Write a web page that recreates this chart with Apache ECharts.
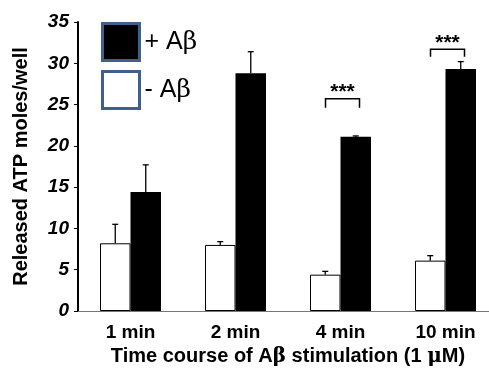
<!DOCTYPE html>
<html>
<head>
<meta charset="utf-8">
<script src="https://cdn.jsdelivr.net/npm/echarts@6/dist/echarts.min.js"></script>
<style>
  html, body { margin: 0; padding: 0; background: #fff; overflow: hidden; }
  /* the plot in the figure runs a little past the right edge of the picture */
  #chart { width: 498px; height: 372px; }
</style>
</head>
<body>
<div id="chart"></div>
<script>
// categories and values
var categories = ['1 min', '2 min', '4 min', '10 min'];
var minusMean = [8.2, 8.0, 4.4, 6.1];   // - Abeta (white)
var minusSem = [2.3, 0.4, 0.4, 0.6];
var plusMean = [14.4, 28.8, 21.1, 29.3]; // + Abeta (black)
var plusSem = [3.3, 2.6, 0.1, 0.9];
var yTicks = [0, 5, 10, 15, 20, 25, 30, 35];
// significance brackets: category index, bracket top, leg bottom
var sigIndex = [2, 3];
var sigTop = [25.7, 31.7];
var sigLeg = [24.6, 30.8];
var sigText = ['***', '***'];

var FONT = "'Liberation Sans', Arial, Helvetica, sans-serif";
var BAR_W = 30.5;

var chart = echarts.init(document.getElementById('chart'));

var errData = [];
for (var i = 0; i < categories.length; i++) {
  errData.push([i, minusMean[i], minusSem[i], -1]);
  errData.push([i, plusMean[i], plusSem[i], 1]);
}
var sigData = sigIndex.map(function (c, k) {
  return [c, sigTop[k], sigLeg[k], k];
});

var greek = { fontFamily: "'DejaVu Serif', 'Liberation Serif', serif", fontWeight: 'normal' };

chart.setOption({
  animation: false,
  grid: { left: 78, top: 22, right: 0, bottom: 61 },
  legend: {
    orient: 'vertical',
    left: 101,
    top: 22,
    padding: 0,
    itemWidth: 37,
    itemHeight: 37,
    itemGap: 8,
    icon: 'rect',
    data: [
      { name: '+ Aβ', itemStyle: { color: '#000', borderColor: '#3f5f8e', borderWidth: 3 } },
      { name: '- Aβ', itemStyle: { color: '#fff', borderColor: '#3f5f8e', borderWidth: 3 } }
    ],
    formatter: function (n) { return n.replace('β', '{g|β}'); },
    textStyle: {
      fontFamily: FONT, fontSize: 25, color: '#000',
      rich: { g: { fontFamily: greek.fontFamily, fontSize: 25, color: '#000' } }
    }
  },
  xAxis: {
    type: 'category',
    data: categories,
    name: 'Time course of A{g|β} stimulation (1 {g|μ}M)',
    nameLocation: 'middle',
    nameGap: 31,
    nameTextStyle: {
      fontFamily: FONT, fontSize: 20, fontWeight: 'bold', color: '#000',
      rich: { g: { fontFamily: greek.fontFamily, fontSize: 20, color: '#000' } }
    },
    axisLine: { lineStyle: { color: '#777', width: 1 } },
    axisTick: { length: 4, lineStyle: { color: '#777' } },
    axisLabel: { fontFamily: FONT, fontSize: 19, fontWeight: 'bold', color: '#000', margin: 12 }
  },
  yAxis: {
    type: 'value',
    min: 0,
    max: 35,
    interval: 5,
    name: 'Released ATP moles/well',
    nameLocation: 'middle',
    nameGap: 47,
    nameTextStyle: { fontFamily: FONT, fontSize: 20, fontWeight: 'bold', color: '#000' },
    axisLine: { show: true, lineStyle: { color: '#000', width: 2 } },
    axisTick: { show: true, length: 4, lineStyle: { color: '#000' } },
    splitLine: { show: false },
    axisLabel: {
      fontFamily: FONT, fontSize: 19, fontWeight: 'bold', fontStyle: 'italic', color: '#000', margin: 9,
      formatter: function (v) { return yTicks.indexOf(v) >= 0 ? String(v) : ''; }
    }
  },
  series: [
    {
      name: '- Aβ',
      type: 'bar',
      data: minusMean,
      barWidth: BAR_W,
      barGap: '0%',
      itemStyle: { color: '#fff', borderColor: '#000', borderWidth: 1 }
    },
    {
      name: '+ Aβ',
      type: 'bar',
      data: plusMean,
      barWidth: BAR_W,
      barGap: '0%',
      itemStyle: { color: '#000' }
    },
    {
      // error bars (upper only)
      type: 'custom',
      silent: true,
      z: 5,
      data: errData,
      encode: { x: 0, y: 1 },
      renderItem: function (params, api) {
        var base = api.coord([api.value(0), api.value(1)]);
        var top = api.coord([api.value(0), api.value(1) + api.value(2)]);
        var x = base[0] + api.value(3) * BAR_W / 2;
        var st = { stroke: '#000', lineWidth: 1.3 };
        return {
          type: 'group',
          children: [
            { type: 'line', shape: { x1: x, y1: base[1], x2: x, y2: top[1] }, style: st },
            { type: 'line', shape: { x1: x - 3, y1: top[1], x2: x + 3, y2: top[1] }, style: st }
          ]
        };
      }
    },
    {
      // significance brackets
      type: 'custom',
      silent: true,
      z: 5,
      data: sigData,
      encode: { x: 0, y: 1 },
      renderItem: function (params, api) {
        var t = api.coord([api.value(0), api.value(1)]);
        var l = api.coord([api.value(0), api.value(2)]);
        var x1 = t[0] - 15, x2 = t[0] + 19;
        return {
          type: 'group',
          children: [
            {
              type: 'polyline',
              shape: { points: [[x1, l[1]], [x1, t[1]], [x2, t[1]], [x2, l[1]]] },
              style: { stroke: '#000', lineWidth: 1.5, fill: null }
            },
            {
              type: 'text',
              style: {
                text: sigText[api.value(3)],
                x: (x1 + x2) / 2,
                y: t[1] + 4,
                align: 'center',
                verticalAlign: 'bottom',
                font: 'bold 21px ' + FONT,
                fill: '#000'
              }
            }
          ]
        };
      }
    }
  ]
});
</script>
</body>
</html>
